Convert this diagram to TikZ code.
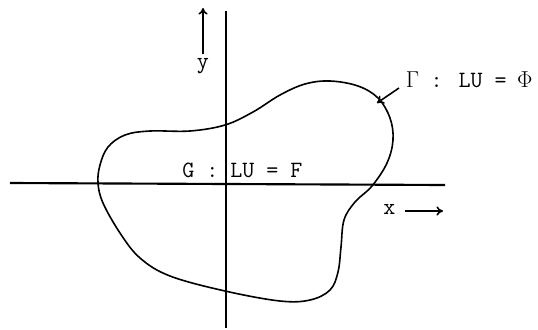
\documentclass[tikz,border=0pt]{standalone}
\usetikzlibrary{arrows.meta}
\newcommand{\mgr}[1]{\makebox[0.525em]{$\mathrm{#1}$}}
\begin{document}
\begin{tikzpicture}[x=0.75pt,y=-0.75pt,
  axis/.style={line width=1.6pt},
  bound/.style={line width=1.2pt},
  ptr/.style={line width=1.2pt,-{To[length=5pt,width=7pt]}},
  lbl/.style={inner sep=0pt,font=\fontsize{17.5}{20}\selectfont\ttfamily}]
\useasboundingbox (0,0) rectangle (538,329);
% axes
\coordinate (yt) at (226,11);
\coordinate (yb) at (226,328);
\coordinate (xl) at (10,183);
\coordinate (xr) at (445,185);
\draw[axis] (yt) -- (yb);
\draw[axis] (xl) -- (xr);
% boundary curve
\draw[bound] plot[smooth cycle,tension=0.6] coordinates {
 (225,125) (190,131) (150,131) (125,135) (108,147) (100,165) (98,183)
 (103,203) (120,233) (140,258) (170,276) (225,291) (280,301) (310,300)
 (330,290) (338,272) (341,247) (344,220) (355,202) (372,186) (387,163)
 (393,140) (390,118) (378,98) (358,86) (330,81) (305,84) (280,95) (253,112)};
% y label and arrow
\node[lbl,anchor=base] (ylab) at (203,68) {y};
\coordinate (ya) at (203,8);
\draw[ptr] (ylab.north) ++(0,-4) -- (ya);
% x label and arrow
\node[lbl,anchor=base west] (xlab) at (383,214) {x};
\coordinate (xa) at (443,211);
\draw[ptr] (405,211) -- (xa);
% G label
\node[lbl,anchor=base west] (glab) at (182,177) {G : LU = F};
% Gamma label
\node[lbl,anchor=base west] (gamlab) at (406,87) {\mgr{\Gamma} : LU = \mgr{\Phi}\hspace{2pt}};
\coordinate (gtip) at (377,103);
\draw[ptr] (gamlab.base west) ++(-7,1) -- (gtip);
\end{tikzpicture}
\end{document}
